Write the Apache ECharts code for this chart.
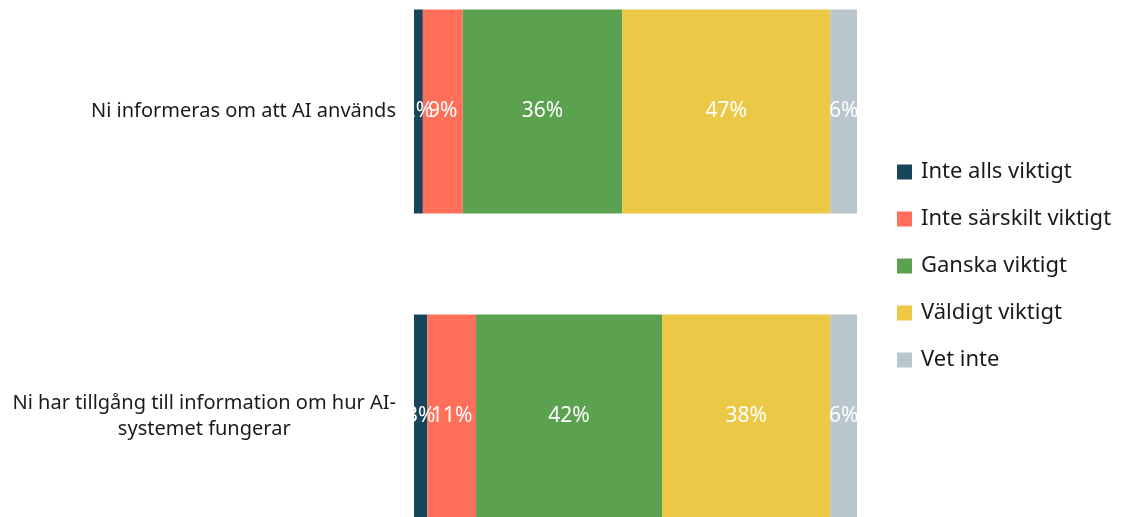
<!DOCTYPE html>
<html>
<head>
<meta charset="utf-8">
<script src="https://cdn.jsdelivr.net/npm/echarts@6/dist/echarts.min.js"></script>
<style>
html, body { margin: 0; padding: 0; background: #fff; }
#main { width: 1122px; height: 517px; }
</style>
</head>
<body>
<div id="main"></div>
<script>
var categories = ['Ni informeras om att AI används', 'Ni har tillgång till information om hur AI-\nsystemet fungerar'];
var seriesNames = ['Inte alls viktigt', 'Inte särskilt viktigt', 'Ganska viktigt', 'Väldigt viktigt', 'Vet inte'];
var colors = ['#17465b', '#ff6f59', '#5ba150', '#ebc946', '#b9c6cc'];
var inteAlls = [2, 3];
var inteSarskilt = [9, 11];
var ganska = [36, 42];
var valdigt = [47, 38];
var vetInte = [6, 6];
var values = [inteAlls, inteSarskilt, ganska, valdigt, vetInte];

var font = 'Noto Sans';
var chart = echarts.init(document.getElementById('main'));

var series = seriesNames.map(function (name, i) {
    return {
        name: name,
        type: 'bar',
        stack: 'total',
        barWidth: 204,
        data: values[i],
        itemStyle: { color: colors[i] },
        label: {
            show: true,
            position: 'inside',
            formatter: '{c}%',
            color: '#fff',
            fontFamily: font,
            fontSize: 21
        }
    };
});

var option = {
    backgroundColor: '#fff',
    animation: false,
    color: colors,
    legend: {
        orient: 'vertical',
        left: 892,
        top: 156,
        itemWidth: 15,
        itemHeight: 15,
        itemGap: 25,
        icon: 'rect',
        data: seriesNames,
        textStyle: { fontFamily: font, fontSize: 22, color: '#1a1a1a', padding: [0, 0, 0, 4] }
    },
    grid: { left: 414, right: 265, top: -41, bottom: -52, outerBoundsMode: 'none', containLabel: false },
    xAxis: { type: 'value', min: 0, max: 100, show: false },
    yAxis: {
        type: 'category',
        inverse: true,
        data: categories,
        axisLine: { show: false },
        axisTick: { show: false },
        axisLabel: {
            margin: 18,
            align: 'right',
            fontFamily: font,
            fontSize: 20,
            color: '#1a1a1a',
            lineHeight: 26,
            formatter: function (v) {
                return v.split('\n').map(function (s) { return '{c|' + s + '}'; }).join('\n');
            },
            rich: { c: { align: 'center', fontFamily: font, fontSize: 20, color: '#1a1a1a', lineHeight: 26 } }
        }
    },
    series: series
};

chart.setOption(option);
</script>
</body>
</html>
